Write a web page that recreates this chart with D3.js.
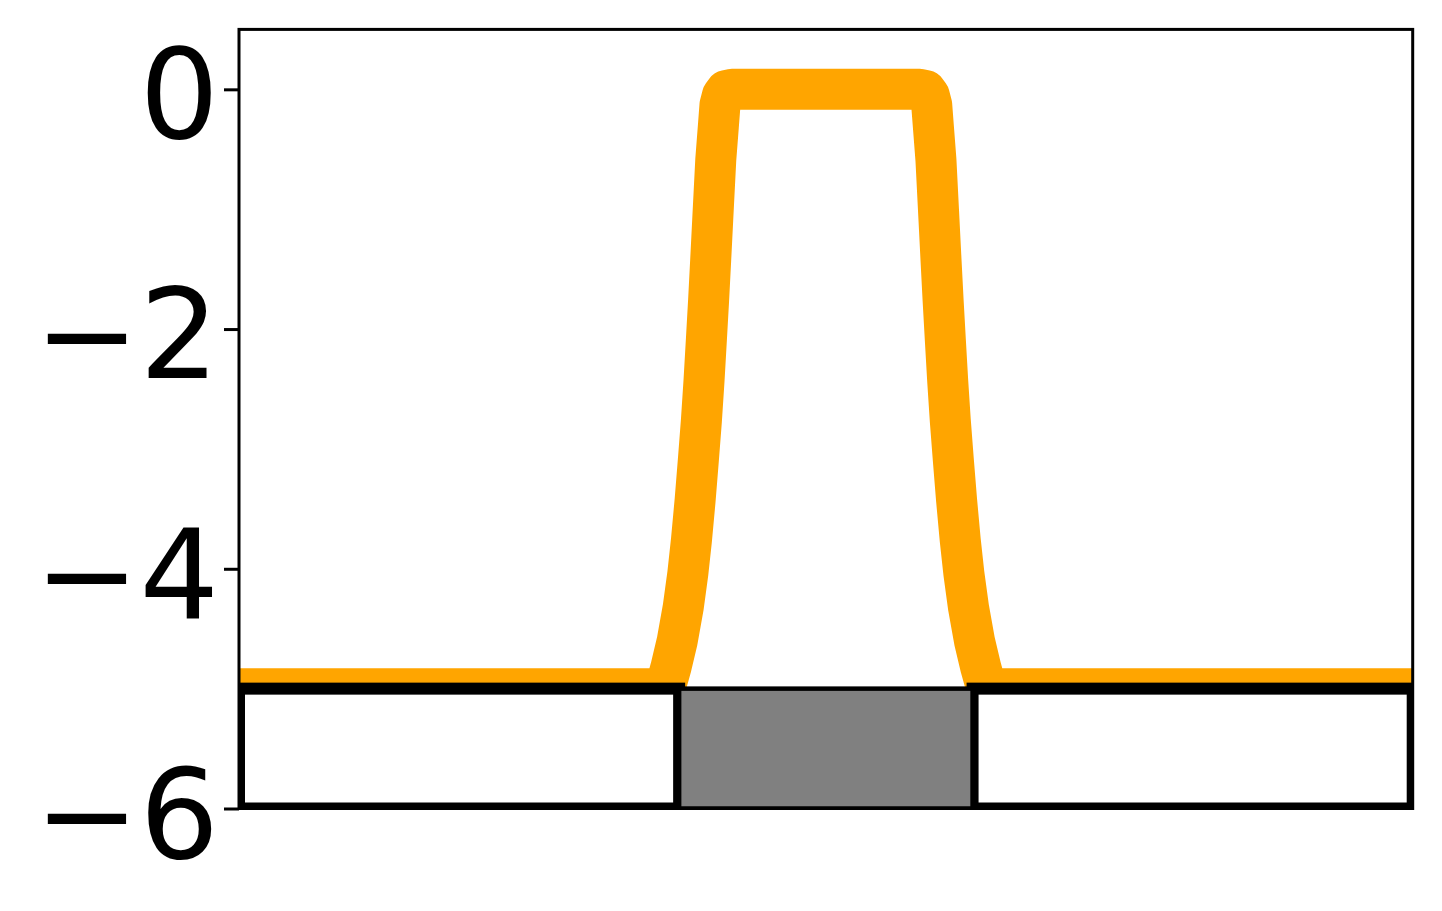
<!DOCTYPE html>
<html>
<head>
<meta charset="utf-8">
<script src="https://cdn.jsdelivr.net/npm/d3@7/dist/d3.min.js"></script>
<style>
  html, body { margin: 0; padding: 0; background: #ffffff; }
  svg { display: block; }
</style>
</head>
<body>
<script>
// ---- data ----
const yTickValues = [0, -2, -4, -6];
const yTickLabels = ["0", "\u22122", "\u22124", "\u22126"];

// orange profile (x position, value)
const profileX = [0, 36.30, 36.81, 37.34, 37.85, 38.24, 38.55, 38.86, 39.14, 39.40, 39.62, 39.82, 40.01, 40.19, 40.36, 40.62, 40.84, 40.98, 41.19, 41.49, 42.00,
                  58.00, 58.51, 58.81, 59.02, 59.16, 59.38, 59.64, 59.81, 59.99, 60.18, 60.38, 60.60, 60.86, 61.14, 61.45, 61.76, 62.15, 62.66, 63.19, 63.70, 100];
const profileY = [-5, -5, -4.82, -4.60, -4.32, -4.04, -3.76, -3.43, -3.09, -2.76, -2.43, -2.09, -1.76, -1.42, -1.09, -0.59, -0.31, -0.13, -0.05, -0.01, 0,
                  0, -0.01, -0.05, -0.13, -0.31, -0.59, -1.09, -1.42, -1.76, -2.09, -2.43, -2.76, -3.09, -3.43, -3.76, -4.04, -4.32, -4.60, -4.82, -5, -5];

// segment blocks along the bottom
const blockStart = [0, 37.5, 62.5];
const blockEnd   = [37.5, 62.5, 100];
const blockKind  = ["white", "gray", "white"];
const blockTop = -5, blockBottom = -6;

const xDomain = [0, 100];
const yDomain = [-6, 0.5];

// ---- layout ----
const W = 1442, H = 911;
const mLeft = 239, mRight = 1412.7, mTop = 29.4, mBottom = 808.5;

const svg = d3.select("body").append("svg").attr("width", W).attr("height", H);

const x = d3.scaleLinear().domain(xDomain).range([mLeft, mRight]);
const y = d3.scaleLinear().domain(yDomain).range([mBottom, mTop]);

svg.append("defs").append("clipPath").attr("id", "plotclip")
  .append("rect").attr("x", mLeft).attr("y", mTop).attr("width", mRight - mLeft).attr("height", mBottom - mTop);

const plot = svg.append("g").attr("clip-path", "url(#plotclip)");

// orange line
const pts = profileX.map((d, i) => [d, profileY[i]]);
plot.append("path")
  .datum(pts)
  .attr("d", d3.line().x(d => x(d[0])).y(d => y(d[1])))
  .attr("fill", "none")
  .attr("stroke", "#FFA500")
  .attr("stroke-width", 41)
  .attr("stroke-linejoin", "round")
  .attr("stroke-linecap", "butt");

// blocks: white first, gray on top
const blocks = blockStart.map((s, i) => ({ s, e: blockEnd[i], kind: blockKind[i] }))
  .sort((a, b) => (a.kind === "gray") - (b.kind === "gray"));

plot.selectAll("rect.block").data(blocks).enter().append("rect")
  .attr("class", "block")
  .attr("x", d => x(d.s))
  .attr("y", y(blockTop))
  .attr("width", d => x(d.e) - x(d.s))
  .attr("height", y(blockBottom) - y(blockTop))
  .attr("fill", d => d.kind === "gray" ? "#808080" : "#ffffff")
  .attr("stroke", "#000000")
  .attr("stroke-width", d => d.kind === "gray" ? 4.5 : 12);

// frame
svg.append("rect")
  .attr("x", mLeft).attr("y", mTop)
  .attr("width", mRight - mLeft).attr("height", mBottom - mTop)
  .attr("fill", "none").attr("stroke", "#000000").attr("stroke-width", 3);

// y axis
const yAxis = d3.axisLeft(y)
  .tickValues(yTickValues)
  .tickFormat((d, i) => yTickLabels[i])
  .tickSize(15)
  .tickPadding(5);

const gy = svg.append("g").attr("transform", `translate(${mLeft},0)`).call(yAxis);
gy.select(".domain").remove();
gy.selectAll(".tick line").attr("stroke", "#000").attr("stroke-width", 3);
gy.selectAll(".tick text")
  .attr("fill", "#000")
  .attr("font-family", "DejaVu Sans")
  .attr("font-size", 125)
  .attr("text-anchor", "end")
  .attr("dy", null)
  .attr("y", 48.6);
</script>
</body>
</html>
